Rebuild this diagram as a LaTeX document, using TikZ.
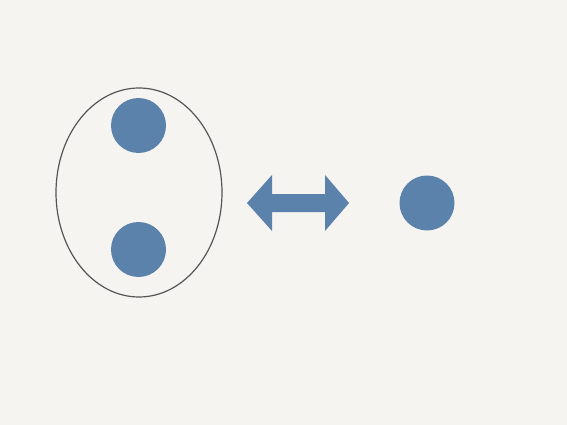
\documentclass[tikz,border=0pt]{standalone}
\definecolor{paper}{HTML}{F6F4F0}
\definecolor{dot}{HTML}{5B82AB}
\definecolor{rim}{HTML}{555555}
\tikzset{
  dotnode/.style={circle, fill=dot, draw=none, minimum size=55pt, inner sep=0pt},
  ringnode/.style={ellipse, draw=rim, line width=1.2pt, minimum width=166pt, minimum height=209pt, inner sep=0pt},
  dblarrow/.style={fill=dot, draw=none}
}
\usetikzlibrary{shapes.geometric}
\begin{document}
\begin{tikzpicture}[x=1pt,y=-1pt]
  \fill[paper] (0,0) rectangle (567,425);
  \useasboundingbox (0,0) rectangle (567,425);
  \node[ringnode] (ring) at (139,192.5) {};
  \node[dotnode] (top) at (138.5,125.5) {};
  \node[dotnode] (bottom) at (138.5,249.5) {};
  \node[dotnode] (right) at (427,203) {};
  \fill[dblarrow] (247,203) -- (272,175) -- (272,194) -- (325,194) -- (325,175)
    -- (349,203) -- (325,231) -- (325,212) -- (272,212) -- (272,231) -- cycle;
\end{tikzpicture}
\end{document}
